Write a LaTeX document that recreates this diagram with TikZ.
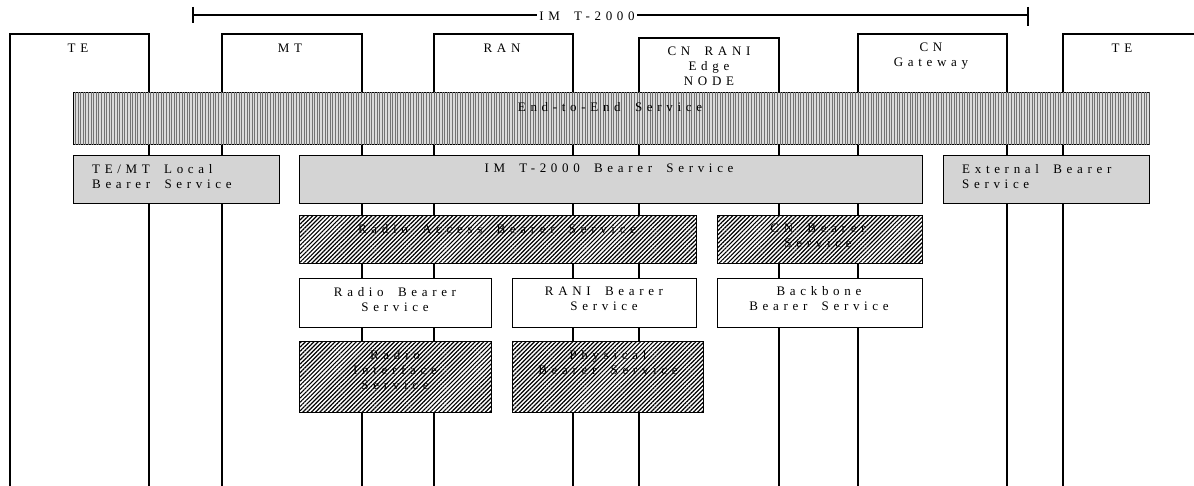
\documentclass[tikz,border=0pt]{standalone}
\usepackage{fontspec}
\newfontfamily\lblfont{Liberation Serif}[LetterSpace=36,WordSpace=1.8]
\usetikzlibrary{patterns.meta}
\tikzset{
  life/.style={line width=1.2pt},
  box/.style={draw, line width=1.4pt, inner sep=0pt, anchor=north west},
  e2ebox/.style={box, fill=black!14, postaction={pattern={Lines[angle=90,distance=2.6pt,line width=0.9pt]}, pattern color=black!55}},
  greybox/.style={box, fill=black!17},
  hatchbox/.style={box, fill=white, postaction={pattern={Lines[angle=45,distance=3pt,line width=1.2pt]}, pattern color=black}},
  plainbox/.style={box, fill=white},
  lbl/.style={font=\fontsize{13pt}{15pt}\lblfont, inner sep=0pt, align=center, anchor=north},
  lbll/.style={lbl, align=left, anchor=north west}
}
\begin{document}
\begin{tikzpicture}[x=1pt,y=-1pt]
\useasboundingbox (0,0) rectangle (1194,486);
\clip (0,0) rectangle (1194,486);
% IMT-2000 bracket
\draw[life] (193,7) -- (193,23);
\draw[life] (1028,7) -- (1028,26);
\draw[life] (193,15) -- (1028,15);
\node[font=\fontsize{13pt}{15pt}\lblfont, fill=white, inner xsep=2pt, inner ysep=1pt, anchor=base] (imt) at (587,21) {IM T-2000};
% entities (open boxes with lifelines)
\draw[life] (10,490) |- (149,34) -- (149,490);
\draw[life] (222,490) |- (362,34) -- (362,490);
\draw[life] (434,490) |- (573,34) -- (573,490);
\draw[life] (639,490) |- (779,38) -- (779,490);
\draw[life] (858,490) |- (1007,34) -- (1007,490);
\draw[life] (1063,490) |- (1200,34);
\node[lbl] (lte1) at (78,44) {TE};
\node[lbl] (lmt) at (290,44) {MT};
\node[lbl] (lran) at (502,44) {RAN};
\node[lbl] (lcnr) at (709,47) {CN RANI\\Edge\\NODE};
\node[lbl] (lcng) at (931,43) {CN\\Gateway};
\node[lbl] (lte2) at (1122,44) {TE};
% service boxes
\node[e2ebox, minimum width=1076pt, minimum height=52pt] (e2e) at (73,92) {};
\node[greybox, minimum width=206pt, minimum height=48pt] (loc) at (73,155) {};
\node[greybox, minimum width=623pt, minimum height=48pt] (imtb) at (299,155) {};
\node[greybox, minimum width=206pt, minimum height=48pt] (ext) at (943,155) {};
\node[hatchbox, minimum width=397pt, minimum height=48pt] (rab) at (299,215) {};
\node[hatchbox, minimum width=205pt, minimum height=48pt] (cnb) at (717,215) {};
\node[plainbox, minimum width=192pt, minimum height=49pt] (rbs) at (299,278) {};
\node[plainbox, minimum width=184pt, minimum height=49pt] (rani) at (512,278) {};
\node[plainbox, minimum width=205pt, minimum height=49pt] (bbs) at (717,278) {};
\node[hatchbox, minimum width=192pt, minimum height=71pt] (ris) at (299,341) {};
\node[hatchbox, minimum width=191pt, minimum height=71pt] (pbs) at (512,341) {};
% labels
\node[lbl] (le2e) at (610,102) {End-to-End Service};
\node[lbll] (lloc) at (92,164) {TE/MT Local\\Bearer Service};
\node[lbl] (limtb) at (609,164) {IM T-2000 Bearer Service};
\node[lbll] (lext) at (962,164) {External Bearer\\Service};
\node[lbl] (lrab) at (497,224) {Radio Access Bearer Service};
\node[lbl] (lcnb) at (818,224) {CN Bearer\\Service};
\node[lbl] (lrbs) at (395,287) {Radio Bearer\\Service};
\node[lbl] (lrani) at (604,287) {RANI Bearer\\Service};
\node[lbl] (lbbs) at (819,286) {Backbone\\Bearer Service};
\node[lbl] (lris) at (395,350) {Radio\\Interface\\Service};
\node[lbl] (lpbs) at (608,350) {Physical\\Bearer Service};
\end{tikzpicture}
\end{document}
